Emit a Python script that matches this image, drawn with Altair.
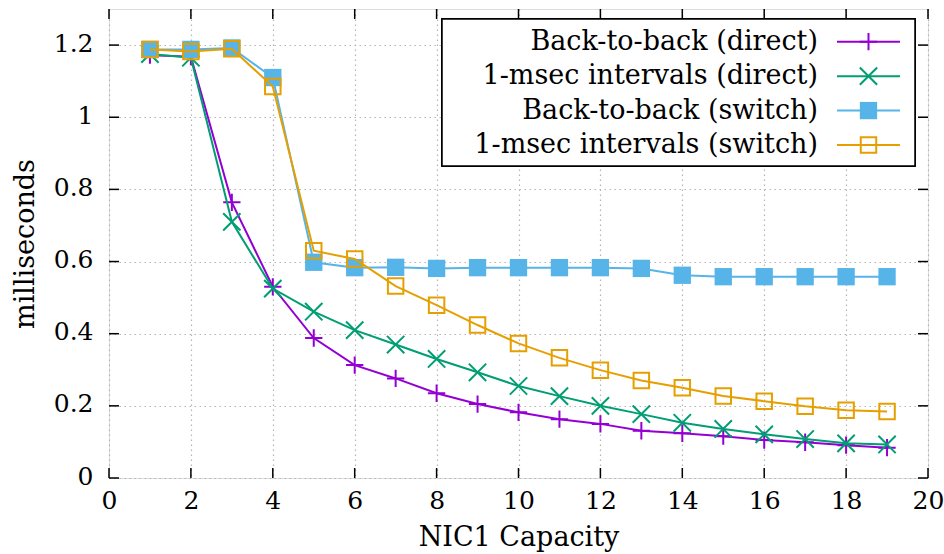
import altair as alt
import pandas as pd

# ---- data ----
capacity = list(range(1, 20))
b2b_direct = [1.172, 1.168, 0.764, 0.530, 0.388, 0.313, 0.276, 0.235, 0.205, 0.182,
              0.163, 0.150, 0.131, 0.124, 0.116, 0.105, 0.099, 0.091, 0.084]
msec_direct = [1.175, 1.165, 0.710, 0.525, 0.461, 0.410, 0.370, 0.330, 0.293, 0.255,
               0.227, 0.200, 0.177, 0.153, 0.136, 0.121, 0.108, 0.096, 0.093]
b2b_switch = [1.188, 1.188, 1.192, 1.110, 0.598, 0.583, 0.584, 0.581, 0.583, 0.583,
              0.583, 0.583, 0.581, 0.562, 0.558, 0.558, 0.558, 0.558, 0.558]
msec_switch = [1.188, 1.182, 1.190, 1.085, 0.630, 0.607, 0.532, 0.479, 0.424, 0.373,
               0.333, 0.299, 0.270, 0.250, 0.227, 0.213, 0.199, 0.188, 0.184]
series_names = ["Back-to-back (direct)", "1-msec intervals (direct)",
                "Back-to-back (switch)", "1-msec intervals (switch)"]
x_ticks = [0, 2, 4, 6, 8, 10, 12, 14, 16, 18, 20]
y_ticks = [0, 0.2, 0.4, 0.6, 0.8, 1, 1.2]

# ---- styles ----
colors = ["#9400d3", "#009e73", "#56b4e9", "#e69f00"]
shapes = ["M-1,0L1,0M0,-1L0,1", "M-1,-1L1,1M-1,1L1,-1", "square", "square"]
filled = [False, False, True, False]
sizes = [300, 300, 300, 240]

W, H = 819, 469
FONT = "DejaVu Serif"
FS = 27
TFS = 25

values = [b2b_direct, msec_direct, b2b_switch, msec_switch]
df = pd.DataFrame({
    "capacity": [c for _ in series_names for c in capacity],
    "ms": [v for vals in values for v in vals],
    "series": [n for n in series_names for _ in capacity],
})
xt_df = pd.DataFrame({"capacity": x_ticks})
yt_df = pd.DataFrame({"ms": y_ticks})
leg_df = pd.DataFrame({"series": series_names})

xs = alt.Scale(domain=[0, 20], nice=False, zero=False)
ys = alt.Scale(domain=[0, 1.3], nice=False, zero=False)

x_axis = alt.Axis(values=x_ticks, title="NIC1 Capacity", grid=True, ticks=False, tickSize=0,
                  domain=False, labelFont=FONT, labelFontSize=TFS, labelColor="black",
                  labelBaseline="alphabetic", labelPadding=30, labelFlush=False,
                  titleFont=FONT, titleFontSize=FS, titleFontWeight="normal", titleColor="black",
                  titleX=W / 2, titleY=67, titleBaseline="alphabetic", titleAlign="center",
                  gridColor="#b4b4b4", gridDash=[1.5, 3.5], gridWidth=1.2)
y_axis = alt.Axis(values=y_ticks, format="~g", title="milliseconds", grid=True, ticks=False,
                  tickSize=0, domain=False, labelFont=FONT, labelFontSize=TFS,
                  labelColor="black", labelPadding=16, labelOffset=-2, labelFlush=False,
                  titleFont=FONT, titleFontSize=FS, titleFontWeight="normal", titleColor="black",
                  titleX=-76, titleY=H / 2, titleAngle=270, titleBaseline="alphabetic",
                  titleAlign="center",
                  gridColor="#b4b4b4", gridDash=[1.5, 3.5], gridWidth=1.2)

X = alt.X("capacity:Q", scale=xs, axis=x_axis)
Y_axis = alt.Y("ms:Q", scale=ys, axis=y_axis)
Y = alt.Y("ms:Q", scale=ys, axis=None)

layers = []
# inward ticks (gnuplot style, mirrored on all four sides)
layers.append(alt.Chart(yt_df).mark_rule(color="black", strokeWidth=1.5)
              .encode(y=Y_axis, x=alt.value(0), x2=alt.value(10)))
layers.append(alt.Chart(yt_df).mark_rule(color="black", strokeWidth=1.5)
              .encode(y=Y, x=alt.value(W - 10), x2=alt.value(W)))
layers.append(alt.Chart(xt_df).mark_rule(color="black", strokeWidth=1.5)
              .encode(x=X, y=alt.value(H), y2=alt.value(H - 10)))
layers.append(alt.Chart(xt_df).mark_rule(color="black", strokeWidth=1.5)
              .encode(x=X, y=alt.value(0), y2=alt.value(10)))


def point_mark(i):
    return dict(shape=shapes[i], filled=filled[i], size=sizes[i], strokeWidth=2,
                color=colors[i], opacity=1)


for i, name in enumerate(series_names):
    base = alt.Chart(df).transform_filter(alt.datum.series == name)
    layers.append(base.mark_line(color=colors[i], strokeWidth=2).encode(x=X, y=Y))
    layers.append(base.mark_point(**point_mark(i)).encode(x=X, y=Y))

# key box (drawn like gnuplot's key: text right-aligned, sample on the right)
layers.append(alt.Chart(leg_df).mark_rect(fill="white", stroke="black", strokeWidth=1.5)
              .encode(x=alt.value(333), x2=alt.value(806), y=alt.value(10), y2=alt.value(157)))
LY = alt.Y("series:N", scale=alt.Scale(type="point", domain=series_names,
                                       range=[32.7, 136], padding=0), axis=None)
for i, name in enumerate(series_names):
    lb = alt.Chart(leg_df).transform_filter(alt.datum.series == name)
    layers.append(lb.mark_rule(color=colors[i], strokeWidth=2)
                  .encode(y=LY, x=alt.value(728), x2=alt.value(791)))
    layers.append(lb.mark_point(**point_mark(i)).encode(y=LY, x=alt.value(759.5)))
layers.append(alt.Chart(leg_df).mark_text(align="right", baseline="middle", font=FONT,
                                          fontSize=FS, color="black")
              .encode(y=LY, x=alt.value(709), text="series:N"))

chart = (alt.layer(*layers)
         .resolve_scale(y="independent")
         .properties(width=W, height=H,
                     autosize=alt.AutoSizeParams(type="none"),
                     padding={"left": 109, "top": 9, "right": 16, "bottom": 76})
         .configure_view(stroke="black", strokeWidth=1.5)
         .configure(background="white"))

chart.save("out.html", embed_options={"renderer": "svg", "actions": False})
